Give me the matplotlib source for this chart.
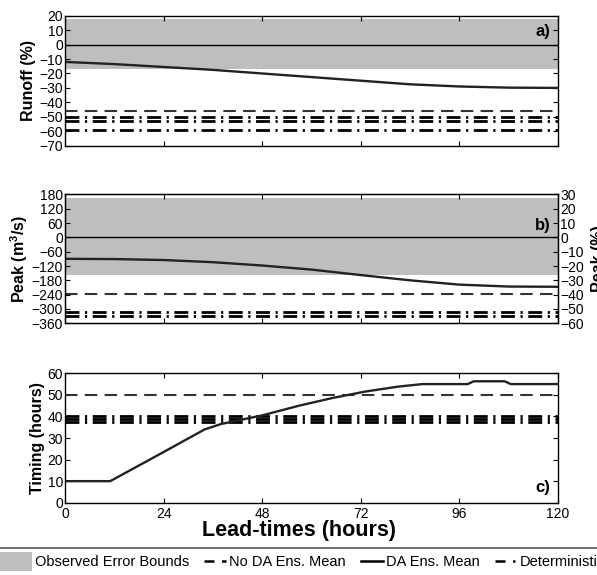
import matplotlib
matplotlib.use("agg")
import matplotlib.pyplot as plt
from matplotlib.patches import Patch, Rectangle
from matplotlib.lines import Line2D
from matplotlib.legend_handler import HandlerPatch

plt.rcParams['font.family'] = ['Liberation Sans', 'DejaVu Sans']
plt.rcParams['mathtext.fontset'] = 'custom'
plt.rcParams['mathtext.rm'] = 'Liberation Sans'
plt.rcParams['mathtext.bf'] = 'Liberation Sans:bold'

# lead times (hours)
hours = [0, 12, 24, 36, 48, 60, 72, 84, 96, 108, 120]

# a) runoff error (%)
runoff_bounds = [-17, 18]
runoff_da = [-12, -13.5, -15.5, -17.5, -20, -22.5, -25, -27.5, -29, -29.8, -30]
runoff_noda = [-46]
runoff_det = [-50, -53, -59]

# b) peak error (m3/s), right axis is percent (600 m3/s = 100 %)
peak_bounds = [-158, 165]
peak_da = [-90, -91, -95, -104, -118, -135, -158, -180, -198, -206, -207]
peak_noda = [-237]
peak_det = [-311, -329]

# c) timing error (hours)
hours_c = [0, 11, 24, 34, 38, 48, 57, 65, 73, 81, 87, 98, 99.5, 107, 108.5, 120]
timing_da = [10, 10, 23.5, 34, 36.5, 40.5, 45, 48.5, 51.5, 53.8, 55, 55, 56.3, 56.3, 55, 55]
timing_noda = [50]
timing_det = [40.2, 39.0, 37.4]

gray = '#bebebe'
dash = (0, (6, 3.5))
dashdot = (0, (5, 2, 0.8, 2))

fig = plt.figure(figsize=(5.97, 5.75), dpi=100)
axa = fig.add_axes([0.1089, 0.7466, 0.8258, 0.2261])
axb = fig.add_axes([0.1089, 0.4377, 0.8258, 0.2243])
axc = fig.add_axes([0.1089, 0.1257, 0.8258, 0.2251])


def draw(ax, bounds, da, noda, det, x=hours):
    if bounds is not None:
        ax.axhspan(bounds[0], bounds[1], color=gray, lw=0, zorder=0)
        ax.axhline(0, color='black', lw=1, zorder=1)
    for v in noda:
        ax.axhline(v, color='#333333', lw=1.5, linestyle=dash)
    for v in det:
        ax.axhline(v, color='black', lw=2, linestyle=dashdot)
    ax.plot(x, da, color='#222222', lw=1.7)
    ax.set_xlim(0, 120)
    ax.set_xticks([0, 24, 48, 72, 96, 120])
    ax.tick_params(direction='in', top=True, right=True, length=3.5,
                   labelsize=10, pad=1.5)
    ax.tick_params(axis='x', pad=3)
    for s in ax.spines.values():
        s.set_linewidth(1)


draw(axa, runoff_bounds, runoff_da, runoff_noda, runoff_det)
axa.set_ylim(-70, 20)
axa.set_yticks(range(-70, 21, 10))
axa.tick_params(labelbottom=False)
axa.set_ylabel('Runoff (%)', fontsize=11.5, fontweight='bold', labelpad=2)
axa.text(0.985, 0.88, 'a)', transform=axa.transAxes, ha='right', va='center',
         fontsize=12, fontweight='bold')

draw(axb, peak_bounds, peak_da, peak_noda, peak_det)
axb.set_ylim(-360, 180)
axb.set_yticks(range(-360, 181, 60))
axb.tick_params(labelbottom=False, right=False)
axb.set_ylabel(r'Peak (m$^\mathbf{3}$/s)', fontsize=11.5, fontweight='bold', labelpad=1)
axb.text(0.985, 0.76, 'b)', transform=axb.transAxes, ha='right', va='center',
         fontsize=12, fontweight='bold')
axb2 = axb.twinx()
axb2.set_ylim(-60, 30)
axb2.set_yticks(range(-60, 31, 10))
axb2.tick_params(direction='in', length=3.5, labelsize=10, pad=1.5)
axb2.set_ylabel('Peak (%)', fontsize=11.5, fontweight='bold', labelpad=5)

draw(axc, None, timing_da, timing_noda, timing_det, x=hours_c)
axc.set_ylim(0, 60)
axc.set_yticks(range(0, 61, 10))
axc.set_ylabel('Timing (hours)', fontsize=11.5, fontweight='bold', labelpad=2)
axc.set_xlabel('Lead-times (hours)', fontsize=15.5, fontweight='bold')
axc.xaxis.set_label_coords(0.475, -0.13)
axc.text(0.985, 0.12, 'c)', transform=axc.transAxes, ha='right', va='center',
         fontsize=12, fontweight='bold')


# wider swatch for the gray band entry
def wide_patch(legend, orig_handle, xdescent, ydescent, width, height, fontsize):
    return Rectangle((-xdescent - 12, -ydescent - 3), width + 12, height + 6)


# legend strip at the bottom
fig.add_artist(Line2D([0, 1], [0.047, 0.047], transform=fig.transFigure,
                      color='#555555', lw=1.2))
band = Patch(facecolor=gray, edgecolor='none')
handles = [
    band,
    Line2D([], [], color='black', lw=1.8, linestyle=(0, (4, 3))),
    Line2D([], [], color='black', lw=1.8),
    Line2D([], [], color='black', lw=1.8, linestyle=(0, (4, 3, 1, 3))),
]
labels = ['Observed Error Bounds', 'No DA Ens. Mean', 'DA Ens. Mean', 'Deterministic']
fig.legend(handles, labels, loc='center left', bbox_to_anchor=(0.0168, 0.022),
           ncol=4, frameon=False, fontsize=10.5, handlelength=1.5,
           handletextpad=0.2, columnspacing=1.05, borderaxespad=0,
           borderpad=0, handler_map={band: HandlerPatch(patch_func=wide_patch)})

fig.savefig('out.png', dpi=100)
